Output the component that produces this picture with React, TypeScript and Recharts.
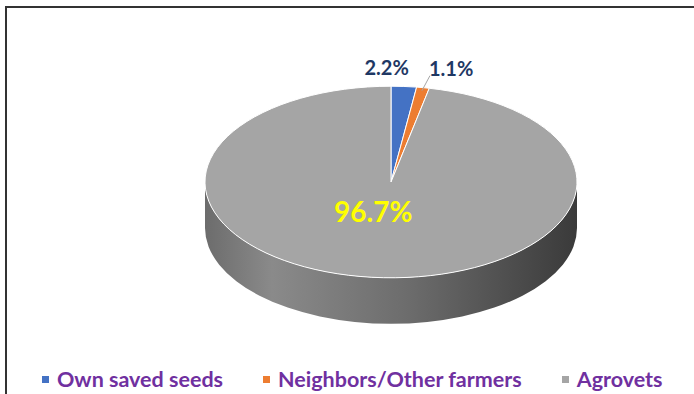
import React from 'react';
import { PieChart, Pie, Cell, Legend } from 'recharts';

const sources: string[] = ['Own saved seeds', 'Neighbors/Other farmers', 'Agrovets'];
const shares: number[] = [2.2, 1.1, 96.7];
const colors: string[] = ['#4472c4', '#ed7d31', '#a5a5a5'];
const sideColors: string[][] = [
  ['#2f5597', '#3a66b5', '#1f3b70'],
  ['#b55a1c', '#d06b25', '#8a4212'],
  ['#6c6c6c', '#8a8a8a', '#3a3a3a'],
];

const data = sources.map((name, i) => ({ name, value: shares[i] }));

const RAD = Math.PI / 180;
const SQUASH = 0.515; // ellipse ry / rx
const DEPTH = 46;

const pt = (cx: number, cy: number, r: number, a: number, dy = 0): [number, number] => [
  cx + r * Math.cos(-a * RAD),
  cy + r * SQUASH * Math.sin(-a * RAD) + dy,
];

// elliptical sector with a cylinder side for the front part
const Slice3D = (props: any) => {
  const { cx, cy, outerRadius: r, startAngle, endAngle, fill, index } = props;
  const sweep = startAngle > endAngle ? 1 : 0;
  const large = Math.abs(endAngle - startAngle) > 180 ? 1 : 0;
  const s = pt(cx, cy, r, startAngle);
  const e = pt(cx, cy, r, endAngle);
  const ry = r * SQUASH;
  const top = `M${cx},${cy} L${s[0]},${s[1]} A${r},${ry} 0 ${large} ${sweep} ${e[0]},${e[1]} Z`;

  const lo = Math.min(startAngle, endAngle);
  const hi = Math.max(startAngle, endAngle);
  const sides: string[] = [];
  for (let k = -2; k <= 1; k++) {
    const a1 = Math.max(lo, -180 + 360 * k);
    const a2 = Math.min(hi, 360 * k);
    if (a2 - a1 > 0.01) {
      const p1 = pt(cx, cy, r, a1);
      const p2 = pt(cx, cy, r, a2);
      const l = a2 - a1 > 180 ? 1 : 0;
      sides.push(
        `M${p1[0]},${p1[1]} A${r},${ry} 0 ${l} 0 ${p2[0]},${p2[1]} L${p2[0]},${p2[1] + DEPTH} A${r},${ry} 0 ${l} 1 ${p1[0]},${p1[1] + DEPTH} Z`
      );
    }
  }
  const sc = sideColors[index % sideColors.length];
  const gid = `side-grad-${index}`;
  return (
    <g>
      <defs>
        <linearGradient id={gid} gradientUnits="userSpaceOnUse" x1={cx - r} y1={0} x2={cx + r} y2={0}>
          <stop offset="0" stopColor={sc[0]} />
          <stop offset="0.18" stopColor={sc[1]} />
          <stop offset="0.55" stopColor={sc[0]} />
          <stop offset="1" stopColor={sc[2]} />
        </linearGradient>
      </defs>
      {sides.map((d, i) => (
        <path key={i} d={d} fill={`url(#${gid})`} stroke="none" />
      ))}
      <path d={top} fill={fill} stroke="#ffffff" strokeWidth={1} strokeLinejoin="round" />
    </g>
  );
};

const renderLabel = (props: any) => {
  const { cx, cy, outerRadius: r, midAngle, index, value } = props;
  const text = `${value.toFixed(1)}%`;
  if (index === 2) {
    const [x, y] = pt(cx, cy, r * 0.3, midAngle);
    return (
      <text x={x - 12} y={y} fill="#ffff00" fontSize={28} fontWeight="bold" textAnchor="middle" dominantBaseline="central" fontFamily="Lato, sans-serif">
        {text}
      </text>
    );
  }
  const [px, py] = pt(cx, cy, r, midAngle);
  if (index === 0) {
    return (
      <text x={px + 5} y={py - 19} fill="#1f3864" fontSize={20} fontWeight="bold" textAnchor="end" dominantBaseline="central" fontFamily="Lato, sans-serif">
        {text}
      </text>
    );
  }
  return (
    <g>
      <line x1={px - 1} y1={py + 3} x2={px + 7} y2={py - 12} stroke="#a6a6a6" strokeWidth={1} />
      <text x={px + 6} y={py - 20} fill="#1f3864" fontSize={20} fontWeight="bold" textAnchor="start" dominantBaseline="central" fontFamily="Lato, sans-serif">
        {text}
      </text>
    </g>
  );
};

const renderLegend = () => {
  return (
    <div style={{ display: 'flex', justifyContent: 'flex-start', fontFamily: 'Lato, sans-serif' }}>
      {sources.map((name, i) => (
        <div key={name} style={{ display: 'flex', alignItems: 'center', marginRight: 40 }}>
          <span style={{ width: 7, height: 7, background: colors[i], display: 'inline-block', marginRight: 8 }} />
          <span style={{ color: '#7030a0', fontWeight: 'bold', fontSize: 21.5 }}>{name}</span>
        </div>
      ))}
    </div>
  );
};

const App: React.FC = () => {
  return (
    <div style={{ position: 'absolute', left: 0, top: 0, width: 694, height: 394, overflow: 'hidden', background: '#fff' }}>
      <div style={{ position: 'absolute', left: 5, top: 6, width: 720, height: 420, borderLeft: '2px solid #333', borderTop: '2px solid #333' }} />
      <PieChart width={694} height={394} margin={{ top: 0, right: 0, bottom: 0, left: 0 }}>
        <Pie
          data={data}
          dataKey="value"
          nameKey="name"
          cx={391}
          cy={182}
          outerRadius={186}
          startAngle={90}
          endAngle={-270}
          isAnimationActive={false}
          shape={Slice3D}
          label={renderLabel}
          labelLine={false}
        >
          {data.map((d, i) => (
            <Cell key={d.name} fill={colors[i]} />
          ))}
        </Pie>
        <Legend
          content={renderLegend}
          verticalAlign="bottom"
          wrapperStyle={{ left: 42, top: 366, width: 680 }}
        />
      </PieChart>
    </div>
  );
};

export default App;
